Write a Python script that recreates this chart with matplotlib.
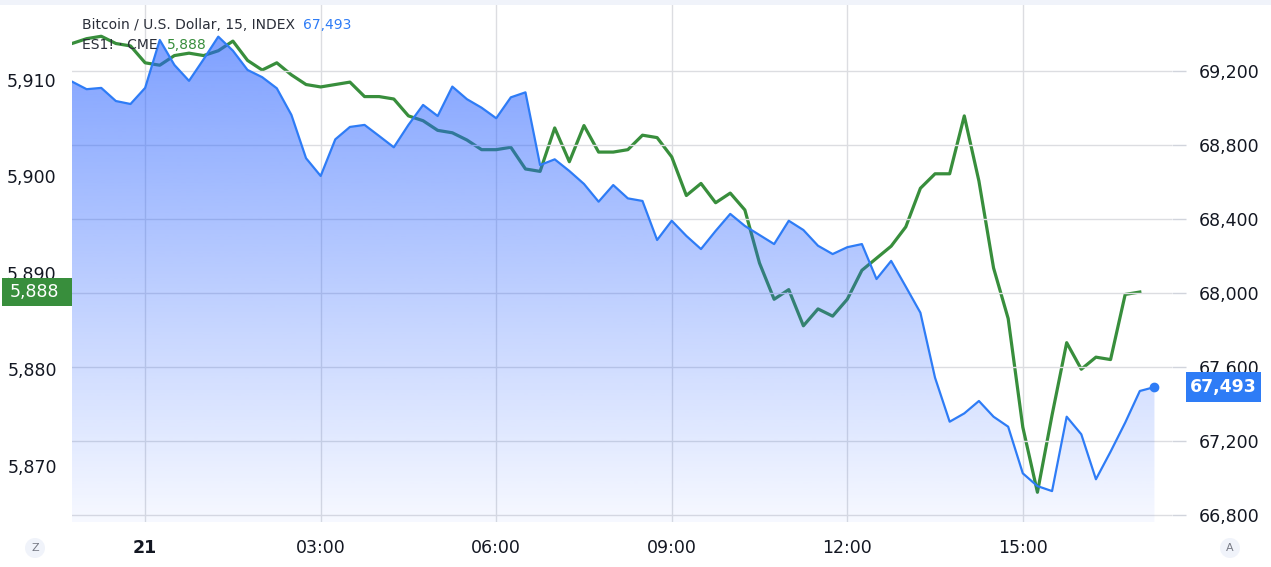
import numpy as np
import pandas as pd
import matplotlib
matplotlib.use('Agg')
import matplotlib.pyplot as plt
import matplotlib.dates as mdates
import matplotlib.transforms as mtransforms
from matplotlib.patches import Polygon, Rectangle
from matplotlib.ticker import FuncFormatter

# 15 minute bars, 20 Oct 22:45 -> 21 Oct 17:15
times = pd.date_range('2024-10-20 22:45', periods=75, freq='15min')

btc = [69144, 69103, 69110, 69039, 69023, 69110, 69369, 69234, 69148, 69265,
       69387, 69311, 69207, 69168, 69108, 68964, 68730, 68634, 68832, 68899,
       68910, 68850, 68789, 68910, 69018, 68958, 69117, 69049, 69003, 68946,
       69059, 69086, 68693, 68724, 68661, 68591, 68495, 68585, 68513, 68499,
       68288, 68392, 68310, 68239, 68337, 68429, 68364, 68315, 68266, 68392,
       68342, 68257, 68212, 68249, 68266, 68077, 68175, 68036, 67895, 67544,
       67306, 67351, 67418, 67333, 67279, 67027, 66958, 66931, 67333, 67238,
       66995, 67144, 67301, 67472, 67493]

es = [5913.75, 5914.25, 5914.5, 5913.75, 5913.5, 5911.75, 5911.5, 5912.5, 5912.75, 5912.5,
      5913.0, 5914.0, 5912.0, 5911.0, 5911.75, 5910.5, 5909.5, 5909.25, 5909.5, 5909.75,
      5908.25, 5908.25, 5908.0, 5906.25, 5905.75, 5904.75, 5904.5, 5903.75, 5902.75, 5902.75,
      5903.0, 5900.75, 5900.5, 5905.0, 5901.5, 5905.25, 5902.5, 5902.5, 5902.75, 5904.25,
      5904.0, 5902.0, 5898.0, 5899.25, 5897.25, 5898.25, 5896.5, 5891.0, 5887.25, 5888.25,
      5884.5, 5886.25, 5885.5, 5887.25, 5890.25, 5891.5, 5892.75, 5894.75, 5898.75, 5900.25,
      5900.25, 5906.25, 5899.5, 5890.5, 5885.25, 5874.0, 5867.25, 5875.25, 5882.75, 5880.0,
      5881.25, 5881.0, 5887.75, 5888.0]

tick_times = pd.to_datetime(['2024-10-21 00:00', '2024-10-21 03:00', '2024-10-21 06:00',
                             '2024-10-21 09:00', '2024-10-21 12:00', '2024-10-21 15:00'])
tick_labels = ['21', '03:00', '06:00', '09:00', '12:00', '15:00']
es_ticks = [5870, 5880, 5890, 5900, 5910]
btc_ticks = [66800, 67200, 67600, 68000, 68400, 68800, 69200]

GREEN = '#388e3c'
BLUE = '#2e7cf6'
GRID = '#dcdde1'
TXT = '#131722'

W, H = 1271, 567
fig = plt.figure(figsize=(W / 100, H / 100), dpi=100)
fig.add_artist(Rectangle((0, 1 - 5 / H), 1, 5 / H, transform=fig.transFigure,
                         color='#f0f3fa', lw=0))
ax = fig.add_axes([72 / W, 1 - 522 / H, 1100 / W, 517 / H])
ax2 = ax.twinx()

xs = mdates.date2num(times)
comma = FuncFormatter(lambda v, p: f'{v:,.0f}')

# ES1! overlay (drawn below the BTC area)
ax.plot(xs[:len(es)], es, color=GREEN, lw=2.3, solid_joinstyle='round', zorder=2)
es_lo, es_hi = 5864.17, 5917.74
ax.set_ylim(es_lo, es_hi)

# BTC area with vertical gradient
btc_lo, btc_hi = 66764, 69558
verts = list(zip(xs, btc)) + [(xs[-1], btc_lo), (xs[0], btc_lo)]
poly = Polygon(verts, closed=True, fc='none', ec='none')
ax2.add_patch(poly)
alpha = np.linspace(0.6, 0.04, 256)
grad = np.zeros((256, 1, 4))
grad[:, 0, :3] = np.array([41, 98, 255]) / 255
grad[:, 0, 3] = alpha
img = ax2.imshow(grad, extent=[xs[0], xs[-1], btc_lo, max(btc)], aspect='auto',
                 origin='upper', zorder=1, interpolation='bilinear')
img.set_clip_path(poly)
ax2.plot(xs, btc, color=BLUE, lw=1.6, solid_joinstyle='round', zorder=3)
ax2.plot(xs[-1], btc[-1], 'o', ms=6, color=BLUE, zorder=4)
ax2.set_ylim(btc_lo, btc_hi)

x0 = xs[0]
x1 = xs[0] + 75.2 * 15 / 1440
ax.set_xlim(x0, x1)
ax2.set_xlim(x0, x1)

# grids
ax.set_xticks(mdates.date2num(tick_times))
ax.set_xticklabels(tick_labels)
ax.grid(axis='x', color=GRID, lw=1)
ax.set_axisbelow(True)
ax2.set_yticks(btc_ticks)
ax2.yaxis.set_major_formatter(comma)
ax2.grid(axis='y', color=GRID, lw=1)
ax2.set_axisbelow(True)
ax2.grid(axis='x', visible=False)

ax.set_yticks(es_ticks)
ax.yaxis.set_major_formatter(comma)

for a in (ax, ax2):
    for s in a.spines.values():
        s.set_visible(False)

ax.tick_params(axis='y', length=0, pad=11, labelsize=12.5, labelcolor=TXT)
ax.tick_params(axis='x', length=0, pad=12, labelsize=12.5, labelcolor=TXT)
ax.get_xticklabels()[0].set_fontweight('bold')
ax2.tick_params(axis='y', length=10, width=1, color='#d1d4dc', pad=9,
                labelsize=12.5, labelcolor=TXT)

# last price labels
bl = mtransforms.blended_transform_factory(ax.transAxes, ax.transData)
ax.add_patch(Rectangle((-70 / 1100, es[-1] - 1.5), 70 / 1100, 3.0, transform=bl,
                       fc=GREEN, ec='none', clip_on=False, zorder=5))
ax.text(-38 / 1100, es[-1], f'{es[-1]:,.0f}', transform=bl, ha='center', va='center',
        color='white', fontsize=12.5, zorder=6, clip_on=False)

br = mtransforms.blended_transform_factory(ax2.transAxes, ax2.transData)
ax2.add_patch(Rectangle((1114 / 1100, btc[-1] - 81), 75 / 1100, 162, transform=br,
                        fc=BLUE, ec='none', clip_on=False, zorder=5))
ax2.text(1151 / 1100, btc[-1], f'{btc[-1]:,.0f}', transform=br, ha='center', va='center',
         color='white', fontsize=12.5, fontweight='bold', zorder=6, clip_on=False)

# legend lines
t1 = fig.text(82 / W, 1 - 25 / H, 'Bitcoin / U.S. Dollar, 15, INDEX', color='#2a2e39',
              fontsize=10, va='center')
ax2.annotate(f'{btc[-1]:,.0f}', xy=(1, 0), xycoords=t1, xytext=(6, 0),
             textcoords='offset points', color=BLUE, fontsize=10, va='bottom',
             annotation_clip=False)
t2 = fig.text(82 / W, 1 - 45 / H, 'ES1! \u00b7 CME', color='#2a2e39', fontsize=10,
              va='center')
ax2.annotate(f'{es[-1]:,.0f}', xy=(1, 0), xycoords=t2, xytext=(7, 0),
             textcoords='offset points', color=GREEN, fontsize=10, va='bottom',
             annotation_clip=False)

for lbl, xp in (('Z', 35), ('A', 1230)):
    fig.text(xp / W, 1 - 548 / H, lbl, ha='center', va='center', fontsize=8,
             color='#787b86',
             bbox=dict(boxstyle='circle,pad=0.45', fc='#f0f3fa', ec='none'))

fig.savefig('out.png', dpi=100)
